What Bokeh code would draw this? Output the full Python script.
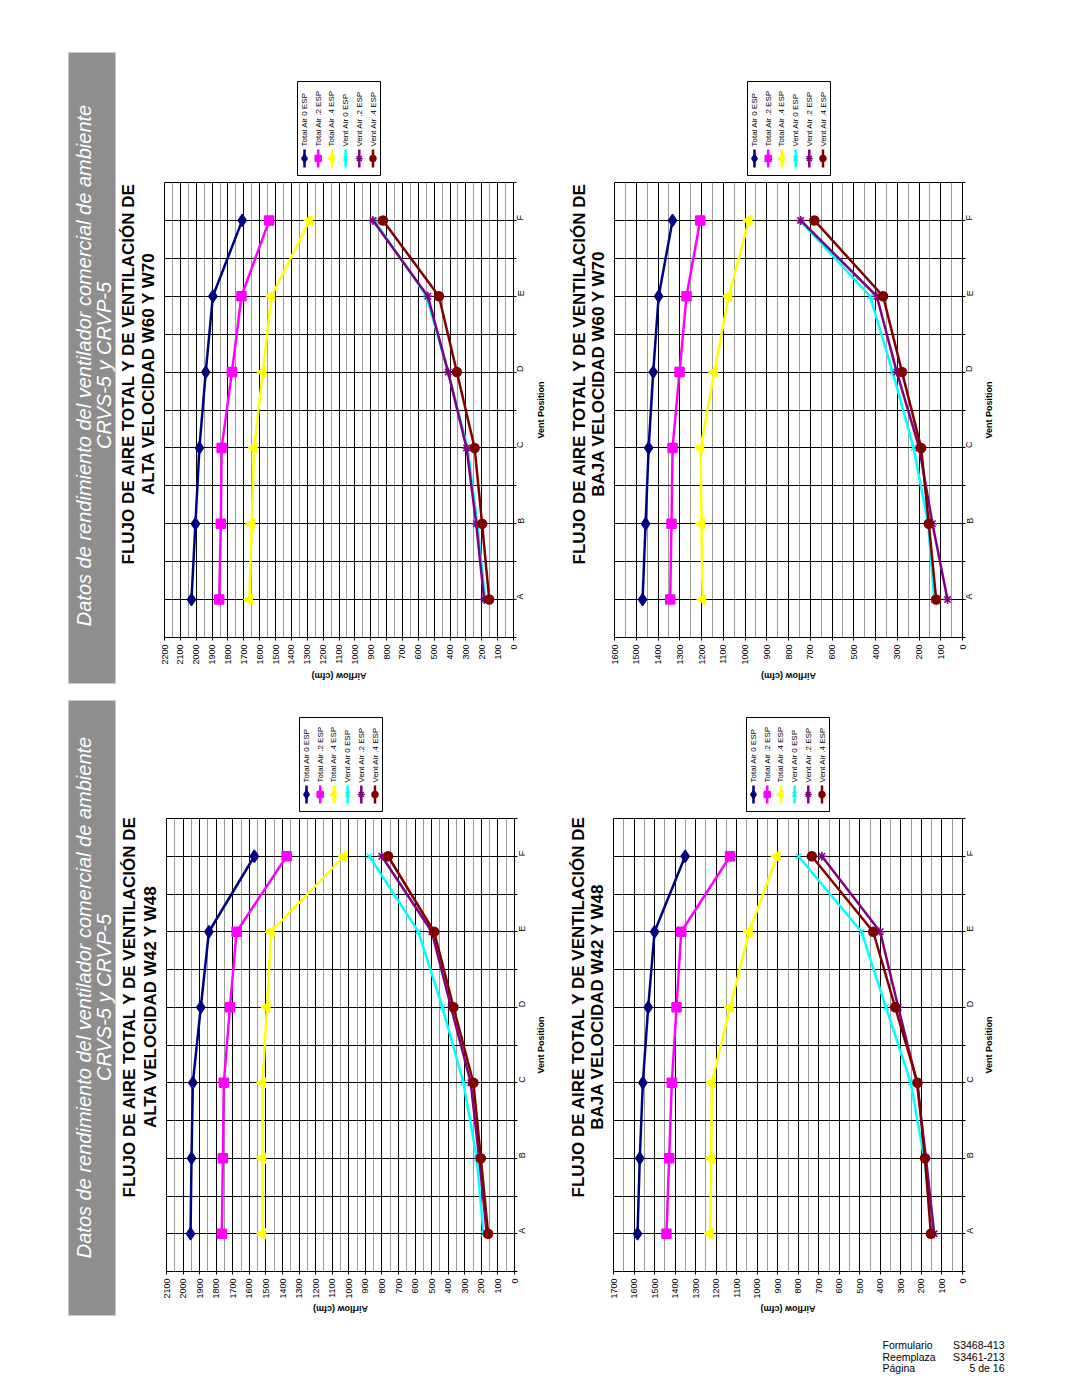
import math
from bokeh.plotting import figure
from bokeh.layouts import row, column
from bokeh.models import Range1d, FixedTicker
from bokeh.core.properties import value
from bokeh.embed import file_html
from bokeh.resources import INLINE

FONT = "Liberation Sans"

# ---------------- data ----------------
vent_positions = ["A", "B", "C", "D", "E", "F"]
series_names = ["Total Air 0 ESP", "Total Air .2 ESP", "Total Air .4 ESP",
                "Vent Air 0 ESP", "Vent Air .2 ESP", "Vent Air .4 ESP"]

# W60 / W70 high speed
w60_alta_total_0 = [2030, 2005, 1980, 1940, 1895, 1710]
w60_alta_total_2 = [1855, 1845, 1840, 1775, 1715, 1540]
w60_alta_total_4 = [1665, 1650, 1635, 1580, 1525, 1285]
w60_alta_vent_0 = [178, 228, 290, 412, 548, 877]
w60_alta_vent_2 = [185, 235, 296, 412, 540, 886]
w60_alta_vent_4 = [153, 198, 245, 357, 470, 823]

# W60 / W70 low speed
w60_baja_total_0 = [1471, 1457, 1443, 1422, 1397, 1333]
w60_baja_total_2 = [1344, 1338, 1333, 1301, 1269, 1206]
w60_baja_total_4 = [1195, 1200, 1204, 1141, 1075, 982]
w60_baja_vent_0 = [130, 158, 225, 321, 425, 747]
w60_baja_vent_2 = [69, 138, 199, 302, 394, 744]
w60_baja_vent_4 = [121, 155, 190, 278, 365, 681]

# W42 / W48 high speed
w42_alta_total_0 = [1955, 1949, 1941, 1893, 1844, 1570]
w42_alta_total_2 = [1766, 1760, 1754, 1717, 1677, 1375]
w42_alta_total_4 = [1520, 1520, 1520, 1494, 1468, 1029]
w42_alta_vent_0 = [187, 228, 308, 435, 580, 876]
w42_alta_vent_2 = [167, 213, 264, 383, 499, 801]
w42_alta_vent_4 = [159, 203, 248, 368, 485, 763]

# W42 / W48 low speed
w42_baja_total_0 = [1583, 1572, 1557, 1531, 1500, 1351]
w42_baja_total_2 = [1442, 1429, 1416, 1393, 1370, 1132]
w42_baja_total_4 = [1229, 1224, 1221, 1132, 1039, 904]
w42_baja_vent_0 = [138, 187, 252, 373, 492, 799]
w42_baja_vent_2 = [138, 178, 222, 313, 401, 685]
w42_baja_vent_4 = [154, 183, 219, 328, 435, 734]

banner_lines = ["Datos de rendimiento del ventilador comercial de ambiente", "CRVS-5 y CRVP-5"]
title_line1 = "FLUJO DE AIRE TOTAL Y DE VENTILACIÓN DE"
title_w60_alta = "ALTA VELOCIDAD W60 Y W70"
title_w60_baja = "BAJA VELOCIDAD W60 Y W70"
title_w42_alta = "ALTA VELOCIDAD W42 Y W48"
title_w42_baja = "BAJA VELOCIDAD W42 Y W48"
x_axis_title = "Airflow (cfm)"
y_axis_title = "Vent Position"
footer_left = ["Formulario", "Reemplaza", "Página"]
footer_right = ["S3468-413", "S3461-213", "5 de 16"]

# ---------------- styles ----------------
COLORS = ["#000080", "#FF00FF", "#FFFF00", "#00FFFF", "#800080", "#800000"]
MARKERS = ["diamond", "square", "triangle", "x", "asterisk", "circle"]
MSIZE = [12, 9, 10, 8, 9, 9]
LSIZE = [8, 6, 7, 6, 7, 6]
GRAY_BANNER = "#8e8e90"
MINOR_GRID = "#9a9a9a"
RB = 20   # right border of chart (tick labels)
BB = 31   # bottom border of chart (tick labels)


def pixel_fig(w, h, left=0, right=0, top=0, bottom=0):
    p = figure(width=w, height=h, x_range=Range1d(0, w - left - right),
               y_range=Range1d(h - top - bottom, 0),
               x_axis_type=None, y_axis_type=None, output_backend="svg",
               toolbar_location=None, min_border_left=left, min_border_right=right,
               min_border_top=top, min_border_bottom=bottom)
    p.outline_line_color = None
    p.grid.visible = False
    p.background_fill_color = "white"
    p.border_fill_color = "white"
    return p


def banner_fig(h, top, bottom, cy):
    p = pixel_fig(118, h)
    p.quad(left=[68], right=[115], top=[top], bottom=[bottom],
           fill_color=GRAY_BANNER, line_color=None)
    p.text(x=[83.5, 103], y=[cy, cy], text=banner_lines, angle=math.pi / 2,
           text_align="center", text_baseline="middle",
           text_font=value(FONT), text_font_style="italic",
           text_font_size="20px", text_color="white")
    return p


def title_fig(w, h, x1, x2, cy, line2):
    p = pixel_fig(w, h)
    p.text(x=[x1, x2], y=[cy, cy], text=[title_line1, line2], angle=math.pi / 2,
           text_align="center", text_baseline="middle",
           text_font=value(FONT), text_font_style="bold",
           text_font_size="17px", text_color="black")
    return p


def legend_fig(w, h, LB, FW):
    # frame-relative coordinates: x from chart frame left, y from top of this figure
    p = pixel_fig(w, h, left=LB, right=w - LB - FW)
    FT = h + 2  # chart frame top in this figure's coordinates
    p.quad(left=[133], right=[216], top=[FT - 101], bottom=[FT - 7],
           fill_color="white", line_color="black", line_width=1)
    for i, name in enumerate(series_names):
        x = 140 + i * 13.7
        p.segment(x0=[x], y0=[FT - 33], x1=[x], y1=[FT - 15],
                  line_color=COLORS[i], line_width=2.5)
        ang = math.pi / 2 if MARKERS[i] == "triangle" else 0
        p.scatter(x=[x], y=[FT - 24], marker=MARKERS[i], size=LSIZE[i],
                  fill_color=COLORS[i], line_color=COLORS[i], line_width=1.5, angle=ang)
        p.text(x=[x], y=[FT - 36], text=[name], angle=math.pi / 2,
               text_align="left", text_baseline="middle", text_font=value(FONT),
               text_font_size="8px", text_color="black")
    return p


def vent_label_fig(w, FH, dx):
    p = pixel_fig(w, 2 + FH + BB, top=2, bottom=BB)
    p.text(x=[dx], y=[FH / 2], text=[y_axis_title], angle=math.pi / 2,
           text_align="center", text_baseline="middle", text_font=value(FONT),
           text_font_style="bold", text_font_size="9px", text_color="black")
    return p


def airflow_label_fig(w, h, LB, FW, dy):
    p = pixel_fig(w, h, left=LB, right=w - LB - FW)
    p.text(x=[FW / 2], y=[dy], text=[x_axis_title], angle=math.pi,
           text_align="center", text_baseline="middle", text_font=value(FONT),
           text_font_style="bold", text_font_size="9px", text_color="black")
    return p


def chart_fig(LB, FW, FH, xmax, series):
    p = figure(width=LB + FW + RB, height=2 + FH + BB, x_range=Range1d(xmax, 0),
               y_range=Range1d(0.5, 6.5), y_axis_location="right",
               output_backend="svg", toolbar_location=None,
               min_border_left=LB, min_border_top=2, min_border_right=RB,
               min_border_bottom=BB)
    p.background_fill_color = "white"
    p.border_fill_color = "white"
    p.outline_line_color = "black"
    p.outline_line_width = 1

    xt = FixedTicker(ticks=list(range(0, xmax + 1, 100)), minor_ticks=list(range(50, xmax, 100)))
    p.xaxis.ticker = xt
    p.xgrid.ticker = xt
    p.xaxis.major_label_orientation = math.pi / 2
    p.xaxis.major_label_text_font = FONT
    p.xaxis.major_label_text_font_size = "9px"
    p.xaxis.major_label_text_color = "black"
    p.xaxis.major_label_standoff = 3
    p.xaxis.major_tick_out = 3
    p.xaxis.major_tick_in = 0
    p.xaxis.minor_tick_line_color = None
    p.xaxis.axis_line_color = "black"
    p.xaxis.major_tick_line_color = "black"
    p.xgrid.grid_line_color = "black"
    p.xgrid.grid_line_width = 1
    p.xgrid.minor_grid_line_color = MINOR_GRID
    p.xgrid.minor_grid_line_width = 1

    positions = list(range(1, len(vent_positions) + 1))
    yt = FixedTicker(ticks=positions, minor_ticks=[k + 0.5 for k in range(0, len(vent_positions) + 1)])
    p.yaxis.ticker = yt
    p.ygrid.ticker = yt
    p.yaxis.major_label_overrides = {k: v for k, v in zip(positions, vent_positions)}
    p.yaxis.major_label_orientation = math.pi / 2
    p.yaxis.major_label_text_font = FONT
    p.yaxis.major_label_text_font_size = "9px"
    p.yaxis.major_label_text_color = "black"
    p.yaxis.major_label_standoff = 4
    p.yaxis.major_tick_out = 3
    p.yaxis.major_tick_in = 0
    p.yaxis.minor_tick_out = 3
    p.yaxis.minor_tick_in = 0
    p.yaxis.minor_tick_line_color = "black"
    p.yaxis.axis_line_color = "black"
    p.ygrid.grid_line_color = "black"
    p.ygrid.minor_grid_line_color = "black"

    for i, vals in enumerate(series):
        p.line(x=vals, y=positions, line_color=COLORS[i], line_width=2.5)
        ang = math.pi / 2 if MARKERS[i] == "triangle" else 0
        p.scatter(x=vals, y=positions, marker=MARKERS[i], size=MSIZE[i],
                  fill_color=COLORS[i], line_color=COLORS[i], line_width=1.5, angle=ang)
    return p


def chart_column(col_w, LB, leg_h, FW, FH, xmax, series, bottom_h, air_dy, vent_dx):
    leg = legend_fig(col_w, leg_h, LB, FW)
    ch = chart_fig(LB, FW, FH, xmax, series)
    vent = vent_label_fig(col_w - (LB + FW + RB), FH, vent_dx)
    air = airflow_label_fig(col_w, bottom_h, LB, FW, air_dy)
    return column(leg, row(ch, vent), air)


s_a = [w60_alta_total_0, w60_alta_total_2, w60_alta_total_4, w60_alta_vent_0, w60_alta_vent_2, w60_alta_vent_4]
s_b = [w60_baja_total_0, w60_baja_total_2, w60_baja_total_4, w60_baja_vent_0, w60_baja_vent_2, w60_baja_vent_4]
s_c = [w42_alta_total_0, w42_alta_total_2, w42_alta_total_4, w42_alta_vent_0, w42_alta_vent_2, w42_alta_vent_4]
s_d = [w42_baja_total_0, w42_baja_total_2, w42_baja_total_4, w42_baja_vent_0, w42_baja_vent_2, w42_baja_vent_4]

# ---------- top half (page y 0..692) ----------
TOP_H = 692
ban_top = banner_fig(TOP_H, 52, 683, 365)
tit_a = title_fig(40, TOP_H, 10, 29.5, 373, title_w60_alta)            # page x 118..158
col_a = chart_column(400, 6, 180, 349, 455, 2200, s_a, 24, 7, 7)        # page x 158..558
tit_b = title_fig(50, TOP_H, 20.5, 40, 373, title_w60_baja)            # page x 558..608
col_b = chart_column(472, 6, 180, 348, 455, 1600, s_b, 24, 7, 6)        # page x 608..1080
top = row(ban_top, tit_a, col_a, tit_b, col_b)

# ---------- bottom half (page y 692..1318) ----------
BOT_H = 626
ban_bot = banner_fig(BOT_H, 8, 623, 305)
tit_c = title_fig(42, BOT_H, 11, 31.5, 314, title_w42_alta)            # page x 118..160
col_c = chart_column(398, 6, 124, 348, 453, 2100, s_c, 16, 6, 6)        # page x 160..558
tit_d = title_fig(49, BOT_H, 19.5, 39, 314, title_w42_baja)            # page x 558..607
col_d = chart_column(473, 6, 124, 349, 453, 1700, s_d, 16, 6, 6)        # page x 607..1080
bottom = row(ban_bot, tit_c, col_c, tit_d, col_d)

# ---------- footer (page y 1318..1396) ----------
foot = pixel_fig(1080, 78)
foot.text(x=[882] * 3, y=[26.5, 38, 49.5], text=footer_left, text_align="left",
          text_baseline="middle", text_font=value(FONT), text_font_size="10.5px",
          text_color="black")
foot.text(x=[1004] * 3, y=[26.5, 38, 49.5], text=footer_right, text_align="right",
          text_baseline="middle", text_font=value(FONT), text_font_size="10.5px",
          text_color="black")

layout = column(top, bottom, foot)
open("out.html", "w").write(file_html(layout, INLINE, title="Flujo de aire"))
